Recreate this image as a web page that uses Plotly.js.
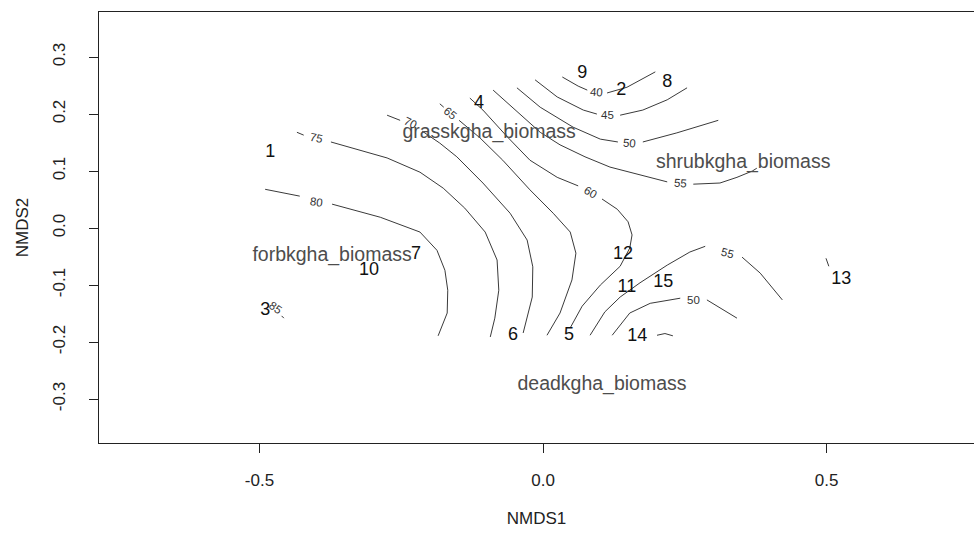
<!DOCTYPE html>
<html>
<head>
<meta charset="utf-8">
<script src="https://cdn.plot.ly/plotly-3.0.1.min.js"></script>
<style>
  html, body { margin: 0; padding: 0; background: #ffffff; }
  #plot { width: 974px; height: 533px; }
</style>
</head>
<body>
<div id="plot"></div>
<script>
// Site scores (NMDS1, NMDS2) with their plot numbers
const siteLabels = ['1', '9', '2', '8', '4', '7', '10', '3', '6', '5', '12', '11', '15', '14', '13'];
const siteX = [-0.481, 0.069, 0.138, 0.219, -0.113, -0.224, -0.307, -0.490, -0.053, 0.046, 0.141, 0.148, 0.212, 0.166, 0.526];
const siteY = [0.133, 0.272, 0.242, 0.256, 0.218, -0.046, -0.074, -0.144, -0.189, -0.188, -0.046, -0.104, -0.096, -0.191, -0.091];

// Biomass variable labels
const varLabels = ['grasskgha_biomass', 'shrubkgha_biomass', 'forbkgha_biomass', 'deadkgha_biomass'];
const varX = [-0.095, 0.353, -0.372, 0.104];
const varY = [0.167, 0.114, -0.049, -0.275];

// Fitted surface isolines; null splits a line where its label sits
const contour40 = [[0.034, 0.265], [0.062, 0.249], [0.078, 0.242], null, [0.113, 0.237], [0.148, 0.247], [0.198, 0.274]];
const contour45 = [[-0.014, 0.260], [0.025, 0.230], [0.071, 0.207], [0.095, 0.200], null, [0.136, 0.198], [0.176, 0.207], [0.219, 0.225], [0.254, 0.246]];
const contour45b = [[0.201, -0.188], [0.215, -0.185], [0.229, -0.189]];
const contour50 = [[-0.046, 0.246], [-0.005, 0.212], [0.053, 0.177], [0.101, 0.156], [0.132, 0.151], null, [0.176, 0.151], [0.236, 0.167], [0.309, 0.189]];
const contour50b = [[0.122, -0.188], [0.153, -0.149], [0.189, -0.132], [0.242, -0.123], null, [0.289, -0.126], [0.342, -0.158]];
const contour55 = [[-0.088, 0.242], [-0.046, 0.204], [-0.005, 0.168], [0.030, 0.146], [0.074, 0.125], [0.118, 0.107], [0.171, 0.093], [0.219, 0.081], null, [0.265, 0.077], [0.312, 0.079], [0.342, 0.089], [0.369, 0.100], [0.377, 0.105]];
const contour55b = [[0.083, -0.188], [0.109, -0.147], [0.136, -0.121], [0.171, -0.096], [0.219, -0.065], [0.259, -0.042], [0.286, -0.032], null, [0.351, -0.051], [0.383, -0.079], [0.422, -0.126]];
const contour55c = [[0.499, -0.053], [0.504, -0.067]];
const contour60 = [[-0.129, 0.228], [-0.106, 0.207], [-0.063, 0.160], [-0.023, 0.119], [0.025, 0.089], [0.062, 0.074], null, [0.104, 0.051], [0.131, 0.033], [0.150, 0.011], [0.157, -0.012], [0.153, -0.035], [0.136, -0.067], [0.101, -0.100], [0.069, -0.137], [0.048, -0.175]];
const contour65 = [[-0.182, 0.218], [-0.175, 0.212], null, [-0.148, 0.189], [-0.111, 0.158], [-0.071, 0.119], [-0.023, 0.067], [0.018, 0.026], [0.048, -0.007], [0.058, -0.044], [0.051, -0.091], [0.030, -0.149], [0.007, -0.188]];
const contour70 = [[-0.275, 0.198], [-0.252, 0.189], null, [-0.213, 0.170], [-0.182, 0.149], [-0.152, 0.125], [-0.106, 0.079], [-0.058, 0.026], [-0.028, -0.021], [-0.018, -0.068], [-0.019, -0.121], [-0.035, -0.184]];
const contour75 = [[-0.434, 0.168], [-0.422, 0.163], null, [-0.374, 0.151], [-0.275, 0.123], [-0.217, 0.098], [-0.176, 0.070], [-0.138, 0.035], [-0.102, -0.007], [-0.081, -0.056], [-0.078, -0.109], [-0.085, -0.158], [-0.093, -0.191]];
const contour80 = [[-0.490, 0.068], [-0.429, 0.056], null, [-0.372, 0.042], [-0.287, 0.019], [-0.217, -0.007], [-0.187, -0.039], [-0.173, -0.074], [-0.168, -0.109], [-0.169, -0.149], [-0.185, -0.189]];
const contour85 = [[-0.461, -0.154], [-0.457, -0.158]];

// Isoline level labels
const levelText = ['40', '45', '50', '55', '60', '65', '70', '75', '80', '55', '50', '85'];
const levelX = [0.095, 0.113, 0.153, 0.242, 0.083, -0.164, -0.233, -0.399, -0.399, 0.325, 0.265, -0.471];
const levelY = [0.239, 0.198, 0.149, 0.079, 0.063, 0.202, 0.184, 0.158, 0.046, -0.044, -0.126, -0.140];

const levelAngle = [5, 0, 5, 5, 30, 40, 25, 12, 8, 15, 0, 35];

const lines = [contour40, contour45, contour45b, contour50, contour50b, contour55, contour55b,
               contour55c, contour60, contour65, contour70, contour75, contour80, contour85];

const traces = lines.map(pts => ({
  type: 'scatter',
  mode: 'lines',
  x: pts.map(p => p === null ? null : p[0]),
  y: pts.map(p => p === null ? null : p[1]),
  connectgaps: false,
  line: { color: '#3a3a3a', width: 1 },
  hoverinfo: 'skip'
}));

traces.push({
  type: 'scatter',
  mode: 'text',
  x: siteX, y: siteY, text: siteLabels,
  textposition: 'middle center',
  textfont: { family: 'Liberation Sans, Arial, sans-serif', size: 18, color: '#111111' },
  hoverinfo: 'skip'
});

traces.push({
  type: 'scatter',
  mode: 'text',
  x: varX, y: varY, text: varLabels,
  textposition: 'middle center',
  textfont: { family: 'Liberation Sans, Arial, sans-serif', size: 19.5, color: '#4d4d4d' },
  hoverinfo: 'skip'
});

const annotations = levelText.map((t, i) => ({
  x: levelX[i], y: levelY[i], xref: 'x', yref: 'y',
  text: t, showarrow: false, textangle: levelAngle[i],
  font: { family: 'Liberation Sans, Arial, sans-serif', size: 11.5, color: '#333333' }
}));

const axisFont = { family: 'Liberation Sans, Arial, sans-serif', size: 17, color: '#222222' };

const layout = {
  width: 974, height: 533,
  margin: { l: 99, r: 0, t: 12, b: 90 },
  paper_bgcolor: '#ffffff', plot_bgcolor: '#ffffff',
  showlegend: false,
  hovermode: false,
  annotations: annotations,
  xaxis: {
    range: [-0.783, 0.760],
    tickvals: [-0.5, 0, 0.5], ticktext: ['-0.5', '0.0', '0.5'],
    ticks: 'outside', ticklen: 9, tickcolor: '#222', tickwidth: 1,
    ticklabelstandoff: 12,
    showline: true, mirror: true, linecolor: '#222', linewidth: 1.3,
    showgrid: false, zeroline: false,
    tickfont: axisFont,
    title: { text: 'NMDS1', font: axisFont, standoff: 23 }
  },
  yaxis: {
    range: [-0.377, 0.379],
    tickvals: [-0.3, -0.2, -0.1, 0, 0.1, 0.2, 0.3],
    ticktext: ['-0.3', '-0.2', '-0.1', '0.0', '0.1', '0.2', '0.3'],
    tickangle: -90,
    ticks: 'outside', ticklen: 9, tickcolor: '#222', tickwidth: 1,
    ticklabelstandoff: 17,
    showline: true, mirror: false, linecolor: '#222', linewidth: 1.3,
    showgrid: false, zeroline: false,
    tickfont: axisFont,
    title: { text: 'NMDS2', font: axisFont, standoff: 17 }
  }
};

Plotly.newPlot('plot', traces, layout, { displayModeBar: false, staticPlot: true });
</script>
</body>
</html>
